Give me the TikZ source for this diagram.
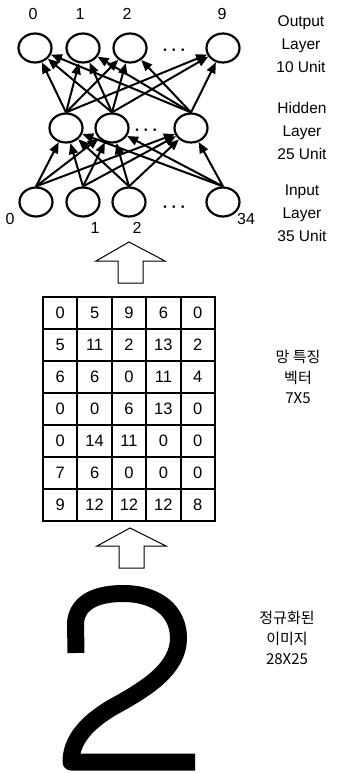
\documentclass[tikz,border=0pt]{standalone}
\usepackage{fontspec}
\setmainfont{Liberation Sans}
\newfontfamily\kofont{Noto Sans CJK KR}
\usetikzlibrary{arrows.meta,positioning,shapes.geometric}

\begin{document}
\begin{tikzpicture}[x=1pt, y=-1pt,
  unit/.style={draw, ellipse, line width=2.2pt, minimum width=33pt, minimum height=29pt, inner sep=0pt},
  arrow/.style={-{Triangle[length=11pt,width=9pt]}, line width=2pt},
  num/.style={inner sep=0pt, font=\fontsize{16}{16}\selectfont},
  dots/.style={inner sep=0pt, font=\fontsize{18}{18}\selectfont\boldmath},
  layer/.style={align=center, inner sep=0pt, font=\fontsize{15.5}{23}\selectfont},
  klabel/.style={align=center, inner sep=0pt, font=\kofont\fontsize{15}{20.5}\selectfont},
  cell/.style={draw, line width=2pt, minimum width=34.4pt, minimum height=32pt, inner sep=0pt, font=\fontsize{16.5}{16.5}\selectfont},
  hollow/.style={draw, line width=1pt, line join=miter}
]
\useasboundingbox (0,0) rectangle (341,773);

% output layer
\node[unit] (o0) at (35,48) {};
\node[unit] (o1) at (83,48) {};
\node[unit] (o2) at (130,48) {};
\node[unit] (o9) at (223,48) {};
\node[num] (lo0) at (33,14) {0};
\node[num] (lo1) at (80,14) {1};
\node[num] (lo2) at (127,14) {2};
\node[num] (lo9) at (222,14) {9};
\node[dots] (odots) at (174,50) {$\cdots$};
% hidden layer
\node[unit] (h1) at (66,128) {};
\node[unit] (h2) at (112,128) {};
\node[unit] (h3) at (191,128) {};
\node[dots] (hdots) at (146,130) {$\cdots$};
% input layer
\node[unit] (i0) at (36,202) {};
\node[unit] (i1) at (83,202) {};
\node[unit] (i2) at (129,202) {};
\node[unit] (i34) at (223,202) {};
\node[dots] (idots) at (174,207) {$\cdots$};
\node[num] (li0) at (10,219) {0};
\node[num] (li1) at (95,228) {1};
\node[num] (li2) at (137,228) {2};
\node[num] (li34) at (246,219) {34};

\foreach \h in {h1,h2,h3}
  \foreach \o in {o0,o1,o2,o9}
    \draw[arrow] (\h.north) -- (\o);
\foreach \i in {i0,i1,i2,i34}
  \foreach \h in {h1,h2,h3}
    \draw[arrow] (\i.north) -- (\h);

% layer names
\node[layer] (outname) at (301,44) {Output\\Layer\\10 Unit};
\node[layer] (hidname) at (302,131) {Hidden\\Layer\\25 Unit};
\node[layer] (inname) at (302,213) {Input\\Layer\\35 Unit};

% arrow grid -> input
\coordinate (a1) at (129,242);
\draw[hollow] (a1) -- ++(36,19) -- ++(-22,0) -- ++(0,22) -- ++(-25,0) -- ++(0,-22) -- ++(-22,0) -- cycle;

% feature grid 7x5
\foreach \row [count=\r] in {{0,5,9,6,0},{5,11,2,13,2},{6,6,0,11,4},{0,0,6,13,0},{0,14,11,0,0},{7,6,0,0,0},{9,12,12,12,8}}
  \foreach \v [count=\c] in \row
    \node[cell] (c\r\c) at ({43+34.4*(\c-0.5)},{297+32*(\r-0.5)}) {\v};
\node[klabel] (featname) at (298,377) {망 특징\\벡터\\7X5};

% arrow image -> grid
\coordinate (a2) at (130,528);
\draw[hollow] (a2) -- ++(36,18) -- ++(-22,0) -- ++(0,22) -- ++(-25,0) -- ++(0,-22) -- ++(-22,0) -- cycle;

% normalized image
\draw[line width=17pt, line join=round] (76,653) -- (75.5,622)
  .. controls (78,600) and (100,593.5) .. (123,593.5)
  .. controls (158,593.5) and (178.5,612) .. (178.5,638)
  .. controls (178.5,668) and (148,688) .. (113,707)
  .. controls (84,724) and (71,742) .. (71,762) -- (195,762);
\node[klabel] (imgname) at (287,638) {정규화된\\이미지\\28X25};
\end{tikzpicture}
\end{document}
